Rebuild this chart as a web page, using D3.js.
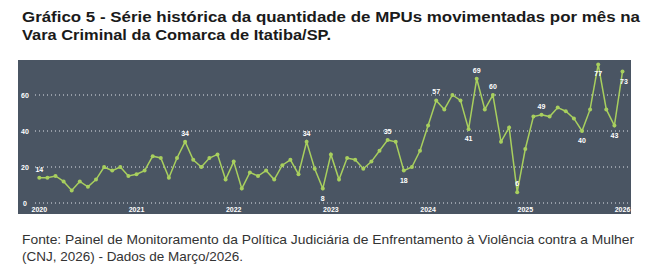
<!DOCTYPE html>
<meta charset="utf-8">
<head>
  <script src="https://d3js.org/d3.v7.min.js"></script>
  <style>
    body { margin: 0; background: #fff; font-family: 'Liberation Sans', Arial, sans-serif; }
  </style>
</head>
<body>
  <div id="my_dataviz"></div>
<script>
  // monthly MPUs, Jan 2020 .. Jan 2026
  const values = [
    14, 14, 15, 12, 7, 12, 9, 13, 20, 18, 20, 15,
    16, 18, 26, 25, 14, 25, 34, 24, 20, 25, 27, 13,
    23, 8, 17, 15, 18, 13, 21, 24, 16, 34, 19, 8,
    27, 13, 25, 24, 19, 23, 29, 35, 34, 18, 20, 29,
    43, 57, 52, 60, 57, 41, 69, 52, 60, 34, 42, 6,
    30, 48, 49, 48, 53, 51, 47, 40, 52, 77, 52, 43,
    73
  ];
  const years = ["2020", "2021", "2022", "2023", "2024", "2025", "2026"];
  const y_ticks = [0, 20, 40, 60];
  const labeled_above = [0, 18, 33, 43, 49, 54, 56, 59, 62];
  const labeled_below = [35, 45, 53, 67, 69, 71, 72];

  const W = 649, H = 274;
  const svg = d3.select("#my_dataviz").append("svg")
    .attr("width", W).attr("height", H);

  // title
  const title = svg.append("g")
    .attr("font-family", "'Liberation Sans', Arial, sans-serif")
    .attr("font-weight", "bold")
    .attr("font-size", 15.5)
    .attr("fill", "#1a1a1a");
  title.append("text").attr("x", 22).attr("y", 22)
    .attr("textLength", 618).attr("lengthAdjust", "spacingAndGlyphs")
    .text("Gráfico 5 - Série histórica da quantidade de MPUs movimentadas por mês na");
  title.append("text").attr("x", 22).attr("y", 40)
    .attr("textLength", 309).attr("lengthAdjust", "spacingAndGlyphs")
    .text("Vara Criminal da Comarca de Itatiba/SP.");

  // panel
  svg.append("rect")
    .attr("x", 18).attr("y", 60)
    .attr("width", 613).attr("height", 154)
    .attr("fill", "#4a5563");

  var x = d3.scaleLinear().domain([0, 72]).range([39.3, 622.5]);
  var y = d3.scaleLinear().domain([0, 20]).range([203, 167]);

  // grid + y labels
  var grid = svg.append("g");
  grid.selectAll("line")
    .data(y_ticks).enter().append("line")
    .attr("x1", 35).attr("x2", 628)
    .attr("y1", d => y(d)).attr("y2", d => y(d))
    .attr("stroke", "#dfe3ea")
    .attr("stroke-width", 1)
    .attr("stroke-dasharray", "1,3");
  grid.selectAll("text")
    .data(y_ticks).enter().append("text")
    .attr("x", 25).attr("y", d => y(d) + 2.5)
    .attr("text-anchor", "middle")
    .attr("font-size", 7).attr("font-weight", "bold")
    .attr("fill", "#ffffff")
    .text(d => d);

  // x labels
  svg.append("g").selectAll("text")
    .data(years).enter().append("text")
    .attr("x", (d, i) => x(i * 12))
    .attr("y", 212)
    .attr("text-anchor", "middle")
    .attr("font-size", 7).attr("font-weight", "bold")
    .attr("fill", "#ffffff")
    .text(d => d);

  var line = d3.line()
    .x((d, i) => x(i))
    .y(d => y(d));

  svg.append("path")
    .attr("d", line(values))
    .attr("fill", "none")
    .attr("stroke", "#a8cf5e")
    .attr("stroke-width", 1.5);

  svg.append("g").selectAll("circle")
    .data(values).enter().append("circle")
    .attr("cx", (d, i) => x(i))
    .attr("cy", d => y(d))
    .attr("r", 2)
    .attr("fill", "#a8cf5e");

  var labels = svg.append("g")
    .attr("font-size", 7).attr("font-weight", "bold")
    .attr("fill", "#ffffff").attr("text-anchor", "middle");
  labels.selectAll(".up")
    .data(labeled_above).enter().append("text")
    .attr("x", i => x(i))
    .attr("y", i => y(values[i]) - 6)
    .text(i => values[i]);
  labels.selectAll(".down")
    .data(labeled_below).enter().append("text")
    .attr("x", i => x(i) + (i === 72 ? 1.5 : 0))
    .attr("y", i => y(values[i]) + 12)
    .text(i => values[i]);

  // source
  const src = svg.append("g")
    .attr("font-family", "'Liberation Sans', Arial, sans-serif")
    .attr("font-size", 13)
    .attr("fill", "#333333");
  src.append("text").attr("x", 22).attr("y", 244)
    .attr("textLength", 612).attr("lengthAdjust", "spacingAndGlyphs")
    .text("Fonte: Painel de Monitoramento da Política Judiciária de Enfrentamento à Violência contra a Mulher");
  src.append("text").attr("x", 22).attr("y", 261)
    .attr("textLength", 221).attr("lengthAdjust", "spacingAndGlyphs")
    .text("(CNJ, 2026) - Dados de Março/2026.");
</script>
</body>
